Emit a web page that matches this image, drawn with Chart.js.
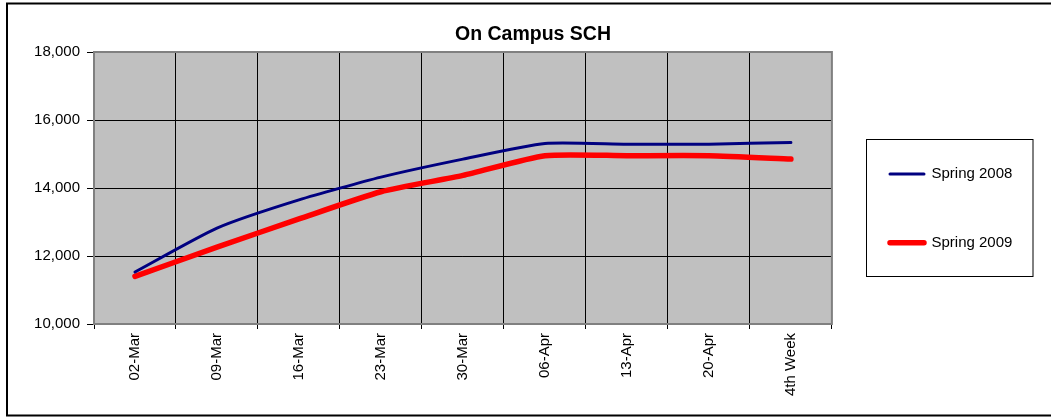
<!DOCTYPE html>
<html>
<head>
<meta charset="utf-8">
<script src="https://cdn.jsdelivr.net/npm/chart.js@4"></script>
<style>
  html, body { margin: 0; padding: 0; background: #fff; overflow: hidden; }
  canvas { display: block; }
</style>
</head>
<body>
<canvas id="c" width="1051" height="417"></canvas>
<script>
const categories = ['02-Mar', '09-Mar', '16-Mar', '23-Mar', '30-Mar', '06-Apr', '13-Apr', '20-Apr', '4th Week'];
const spring2008 = [11530, 12820, 13650, 14320, 14850, 15310, 15290, 15290, 15340];
const spring2009 = [11400, 12260, 13090, 13890, 14370, 14950, 14950, 14950, 14850];
const yMin = 10000;
const yMax = 18000;
const yStep = 2000;

const FONT = "'Liberation Sans', Arial, sans-serif";

const decor = {
  id: 'decor',
  afterLayout(chart) {
    const lg = chart.legend;
    if (lg) {
      lg.left = 836.3; lg.right = 1051;
      lg.top = 112.8; lg.bottom = 400;
    }
    const t = chart.titleBlock;
    if (t) { t.left = 15; t.right = 1051; }
  },
  beforeDraw(chart) {
    const { ctx, chartArea: a } = chart;
    ctx.save();
    ctx.fillStyle = '#ffffff';
    ctx.fillRect(0, 0, chart.width, chart.height);
    ctx.fillStyle = '#C0C0C0';
    ctx.fillRect(a.left, a.top, a.right - a.left, a.bottom - a.top);
    ctx.restore();
  },
  beforeDatasetsDraw(chart) {
    const { ctx, chartArea: a } = chart;
    ctx.save();
    ctx.strokeStyle = '#808080';
    ctx.lineWidth = 2;
    ctx.strokeRect(a.left, a.top, a.right - a.left, a.bottom - a.top);
    ctx.restore();
  },
  afterDraw(chart) {
    const { ctx } = chart;
    ctx.save();
    ctx.strokeStyle = '#000';
    ctx.lineWidth = 2;
    ctx.strokeRect(7, 3.5, 1060, 412);
    ctx.lineWidth = 1;
    ctx.strokeRect(866.5, 139.5, 166.5, 137);
    ctx.restore();
  }
};

new Chart(document.getElementById('c'), {
  type: 'line',
  data: {
    labels: categories,
    datasets: [
      {
        label: 'Spring 2008',
        data: spring2008,
        borderColor: '#000080',
        backgroundColor: '#000080',
        borderWidth: 3,
        borderCapStyle: 'round',
        borderJoinStyle: 'round',
        pointRadius: 0,
        tension: 0.2,
        fill: false
      },
      {
        label: 'Spring 2009',
        data: spring2009,
        borderColor: '#FF0000',
        backgroundColor: '#FF0000',
        borderWidth: 5.5,
        borderCapStyle: 'round',
        borderJoinStyle: 'round',
        pointRadius: 0,
        tension: 0.2,
        fill: false
      }
    ]
  },
  options: {
    responsive: false,
    maintainAspectRatio: false,
    animation: false,
    events: [],
    layout: { padding: { left: 0, top: 0, bottom: 0, right: 33 } },
    plugins: {
      title: {
        display: true,
        text: 'On Campus SCH',
        color: '#000',
        font: { family: FONT, size: 19.5, weight: 'bold', lineHeight: 1.2 },
        padding: { top: 23.3, bottom: 5.3 }
      },
      legend: {
        display: true,
        position: 'right',
        align: 'start',
        maxWidth: 219,
        labels: {
          color: '#000',
          font: { family: FONT, size: 15 },
          boxWidth: 34,
          boxHeight: 0,
          padding: 53.7
        }
      },
      tooltip: { enabled: false }
    },
    scales: {
      x: {
        type: 'category',
        offset: true,
        afterFit(scale) { scale.height = 93; },
        grid: {
          offset: true,
          color: '#000',
          lineWidth: 1,
          drawTicks: true,
          tickLength: 5
        },
        border: { display: false },
        ticks: {
          autoSkip: false,
          maxRotation: 90,
          minRotation: 90,
          padding: 4,
          color: '#000',
          font: { family: FONT, size: 15 }
        }
      },
      y: {
        type: 'linear',
        min: yMin,
        max: yMax,
        afterFit(scale) { scale.width = 94; },
        grid: {
          color: '#000',
          lineWidth: 1,
          drawTicks: true,
          tickLength: 7
        },
        border: { display: false },
        ticks: {
          stepSize: yStep,
          padding: 7,
          color: '#000',
          font: { family: FONT, size: 15 },
          callback: (v) => Number(v).toLocaleString('en-US')
        }
      }
    }
  },
  plugins: [decor]
});
</script>
</body>
</html>
